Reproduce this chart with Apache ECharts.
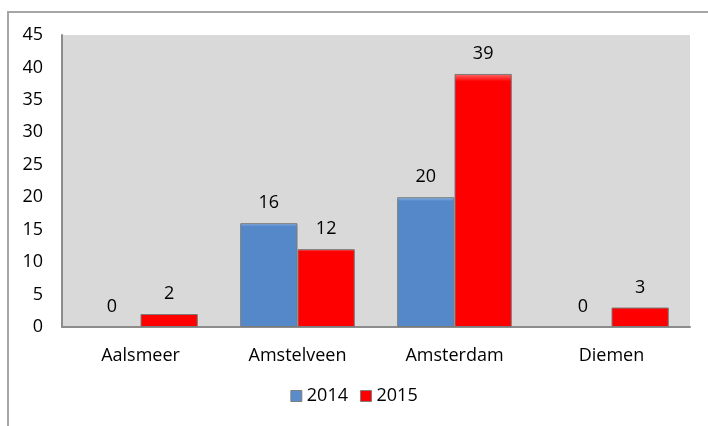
<!DOCTYPE html>
<html>
<head>
<meta charset="utf-8">
<script src="https://cdn.jsdelivr.net/npm/echarts@6/dist/echarts.min.js"></script>
<style>
  html, body { margin: 0; padding: 0; background: #fff; }
  #frame { position: absolute; left: 7px; top: 11px; width: 720px; height: 440px; border: 2px solid #a6a6a6; box-sizing: border-box; }
  #chart { position: absolute; left: 0; top: 0; width: 708px; height: 426px; }
</style>
</head>
<body>
<div id="frame"></div>
<div id="chart"></div>
<script>
var categories = ['Aalsmeer', 'Amstelveen', 'Amsterdam', 'Diemen'];
var values2014 = [0, 16, 20, 0];
var values2015 = [2, 12, 39, 3];
var yTicks = [0, 5, 10, 15, 20, 25, 30, 35, 40, 45];

var font = '"Open Sans", "Liberation Sans", sans-serif';

// bevel-ish look: light strip at the top
function bevel(light, base) {
    return new echarts.graphic.LinearGradient(0, 0, 0, 1, [
        { offset: 0, color: light },
        { offset: 0.03, color: base },
        { offset: 1, color: base }
    ]);
}

// zero bars get no outline, like the original
function barData(arr) {
    return arr.map(function (v) {
        return v === 0 ? { value: v, itemStyle: { borderWidth: 0 } } : v;
    });
}

var labelStyle = { show: true, position: 'top', distance: 11, color: '#000', fontSize: 18, fontFamily: font };

var chart = echarts.init(document.getElementById('chart'));
chart.setOption({
    animation: false,
    textStyle: { fontFamily: font },
    grid: { left: 62, right: 18, top: 35, bottom: 99, show: true, backgroundColor: '#d9d9d9', borderWidth: 0 },
    legend: {
        bottom: 16,
        left: 'center',
        itemWidth: 11,
        itemHeight: 11,
        itemGap: 12,
        textStyle: { fontSize: 18, color: '#000', fontFamily: font },
        data: [
            { name: '2014', icon: 'rect', itemStyle: { color: '#5a8ccc', borderColor: '#7f7f7f', borderWidth: 1 } },
            { name: '2015', icon: 'rect', itemStyle: { color: '#ff0000', borderColor: '#7f7f7f', borderWidth: 1 } }
        ]
    },
    xAxis: {
        type: 'category',
        data: categories,
        axisLine: { lineStyle: { color: '#8c8c8c', width: 2 } },
        axisTick: { show: false },
        axisLabel: { color: '#000', fontSize: 18, margin: 20 }
    },
    yAxis: {
        type: 'value',
        min: yTicks[0],
        max: yTicks[yTicks.length - 1],
        interval: 5,
        axisLine: { show: true, lineStyle: { color: '#8c8c8c', width: 2 } },
        axisTick: { show: false },
        splitLine: { show: false },
        axisLabel: { color: '#000', fontSize: 18, margin: 19 }
    },
    series: [
        {
            name: '2014',
            type: 'bar',
            data: barData(values2014),
            barGap: '0%',
            barCategoryGap: '27%',
            itemStyle: { color: bevel('#8cb8ee', '#5588c8'), borderColor: '#7a7a7a', borderWidth: 1 },
            label: labelStyle
        },
        {
            name: '2015',
            type: 'bar',
            data: barData(values2015),
            itemStyle: { color: bevel('#ff6a6a', '#ff0000'), borderColor: '#7a7a7a', borderWidth: 1 },
            label: labelStyle
        }
    ]
});
</script>
</body>
</html>
